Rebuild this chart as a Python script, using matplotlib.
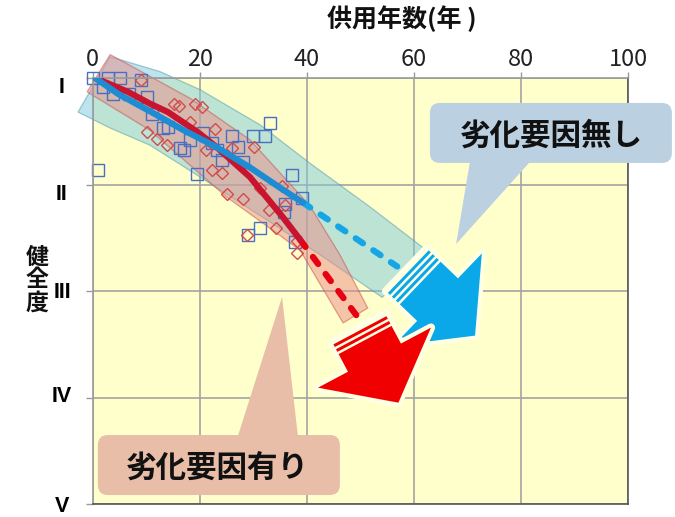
import matplotlib
matplotlib.use("Agg")
import matplotlib.pyplot as plt
import numpy as np
from matplotlib.patches import Polygon, FancyBboxPatch
from matplotlib.transforms import Affine2D, IdentityTransform, ScaledTranslation

plt.rcParams['font.family'] = ['Noto Sans CJK JP', 'DejaVu Sans']

# ---- data ----------------------------------------------------------------
x_ticks = [0, 20, 40, 60, 80, 100]
grade_ticks = [1, 2, 3, 4, 5]
grade_labels = ['I', 'II', 'III', 'IV', 'V']

# inspection results, no deterioration factor (blue squares)
sq_years = [0.1, 2.9, 5.1, 2.0, 3.8, 6.8, 9.1, 10.2, 11.1, 13.2, 14.1, 16.3, 17.1,
            18.2, 1.0, 19.5, 20.6, 22.3, 23.2, 24.2, 26.0, 27.2, 28.1, 30.0, 32.2,
            33.1, 37.3, 39.1, 36.0, 35.8, 31.3, 29.0, 37.8]
sq_grades = [1.00, 1.00, 1.00, 1.08, 1.15, 1.15, 1.02, 1.18, 1.34, 1.47, 1.46, 1.66, 1.68,
             1.58, 1.86, 1.90, 1.52, 1.61, 1.68, 1.77, 1.54, 1.65, 1.79, 1.54, 1.54,
             1.42, 1.91, 2.13, 2.18, 2.26, 2.41, 2.47, 2.54]

# inspection results, with deterioration factor (red diamonds)
dm_years = [9.1, 15.2, 16.2, 19.1, 20.4, 18.2, 22.9, 10.2, 12.0, 13.9, 26.1, 30.2, 21.2,
            22.3, 24.2, 25.1, 28.1, 31.3, 35.4, 32.9, 35.9, 34.3, 38.2, 28.9, 38.2]
dm_grades = [1.02, 1.24, 1.26, 1.24, 1.27, 1.41, 1.48, 1.51, 1.57, 1.63, 1.66, 1.65, 1.68,
             1.86, 1.89, 2.09, 2.14, 2.03, 2.01, 2.24, 2.19, 2.41, 2.53, 2.47, 2.64]

# trend curves
blue_years = [0.5, 4.8, 11.0, 17.0, 23.2, 29.4, 35.6, 39.3]
blue_grades = [1.0, 1.15, 1.32, 1.49, 1.65, 1.84, 2.05, 2.17]
blue_pred_years = [39.3, 48.1, 56.9]
blue_pred_grades = [2.17, 2.47, 2.77]

red_years = [0.5, 6.6, 10.7, 14.1, 19.7, 23.2, 29.4, 35.6, 38.8]
red_grades = [1.0, 1.13, 1.24, 1.32, 1.51, 1.65, 1.93, 2.31, 2.52]
red_pred_years = [38.8, 44.7, 50.2]
red_pred_grades = [2.52, 2.92, 3.29]

# scatter bands (upper edge left->right, lower edge right->left)
blue_band_years = [3.3, 12.6, 20.1, 31.3, 40.6, 51.8, 62.7,
                   54.1, 42.5, 33.1, 20.1, 10.7, 3.3, -2.7]
blue_band_grades = [0.80, 0.94, 1.11, 1.44, 1.80, 2.21, 2.63,
                    3.06, 2.66, 2.35, 1.93, 1.63, 1.47, 1.32]
red_band_years = [3.3, 18.2, 29.4, 40.6, 46.2, 51.4,
                  46.8, 38.8, 34.5, 25.1, 10.7, -1.0]
red_band_grades = [0.78, 1.19, 1.58, 2.20, 2.66, 3.16,
                   3.30, 2.62, 2.46, 2.12, 1.49, 1.13]

# ---- figure ---------------------------------------------------------------
W, H = 675, 517
fig = plt.figure(figsize=(W / 100, H / 100), dpi=100)
ax = fig.add_axes([92.5 / W, 1 - 504 / H, 535.5 / W, 426 / H])
ax.set_xlim(0, 100)
ax.set_ylim(5, 1)
ax.set_facecolor('#FFFFCC')
ax.set_axisbelow(True)
ax.grid(color='#a3a3a3', lw=1.2)

ax.xaxis.tick_top()
ax.set_xticks(x_ticks)
ax.set_xticklabels([str(v) for v in x_ticks], fontsize=17, color='#222222')
ax.tick_params(axis='x', length=4, width=1, color='#999999', pad=1)
ax.set_yticks(grade_ticks)
ax.set_yticklabels(grade_labels, fontsize=15.5, fontweight='bold',
                   family=['Liberation Sans', 'DejaVu Sans'])
ax.tick_params(axis='y', length=5, width=1, color='#999999', pad=17)
label_nudge = [-7, -8, 1.5, 3.5, 0.5]  # px, roman numerals are not centred on ticks
for lbl, dy in zip(ax.get_yticklabels(), label_nudge):
    lbl.set_horizontalalignment('center')
    lbl.set_transform(lbl.get_transform() + ScaledTranslation(0, dy / 100, fig.dpi_scale_trans))
for side in ['left', 'top']:
    ax.spines[side].set_color('#9a9a9a')
for side in ['right', 'bottom']:
    ax.spines[side].set_color('#555555')
for sp in ax.spines.values():
    sp.set_linewidth(1.2)

# bands
ax.add_patch(Polygon(np.column_stack([blue_band_years, blue_band_grades]), closed=True,
                     fc='#7DC9DC', ec='#4F97AA', lw=0.9, alpha=0.5, clip_on=False, zorder=1))
ax.add_patch(Polygon(np.column_stack([red_band_years, red_band_grades]), closed=True,
                     fc='#EB8D88', ec='#C84848', lw=0.9, alpha=0.5, clip_on=False, zorder=1.1))

# markers
ax.plot(sq_years, sq_grades, ls='none', marker='s', ms=8.6, mfc='none', mec='#4A6FC2',
        mew=1.0, clip_on=False, zorder=2)
ax.plot(dm_years, dm_grades, ls='none', marker='D', ms=6.4, mfc='none', mec='#D24B4B',
        mew=1.0, clip_on=False, zorder=2.1)

# trend lines
ax.plot(red_pred_years, red_pred_grades, color='#E60012', lw=4.5, ls=(0, (1.4, 2.0)),
        dash_capstyle='round', zorder=3)
ax.plot(red_years, red_grades, color='#C8142E', lw=4.5, solid_capstyle='round', zorder=3.1)
ax.plot(blue_pred_years, blue_pred_grades, color='#14A6E6', lw=4.5, ls=(0, (1.4, 2.0)),
        dash_capstyle='round', zorder=3.2)
ax.plot(blue_years, blue_grades, color='#1E8CD2', lw=4.5, solid_capstyle='round', zorder=3.3)


def fat_arrow(anchor, angle, color, hw, shaft, head_w, head_len, n_stripes, z):
    x0, y0 = ax.transData.transform(anchor)
    tr = Affine2D().rotate_deg(angle).translate(x0, y0)
    back = -2.5 - 5.5 * n_stripes
    outline = [(back, -hw), (shaft, -hw), (shaft, -head_w), (shaft + head_len, 0),
               (shaft, head_w), (shaft, hw), (back, hw)]
    halo = Polygon(outline, closed=True, fc='#FFFFE4', ec='#FFFFE4', lw=6,
                   joinstyle='round', transform=tr, clip_on=False, zorder=z)
    ax.add_patch(halo)
    body = [(0, -hw), (shaft, -hw), (shaft, -head_w), (shaft + head_len, 0),
            (shaft, head_w), (shaft, hw), (0, hw)]
    ax.add_patch(Polygon(body, closed=True, fc=color, ec='none', transform=tr,
                         clip_on=False, zorder=z + 0.1))
    for k in range(n_stripes):
        u1 = -2.5 - 5.5 * k
        ax.add_patch(Polygon([(u1 - 3, -hw), (u1, -hw), (u1, hw), (u1 - 3, hw)], closed=True,
                             fc=color, ec='none', transform=tr, clip_on=False, zorder=z + 0.1))


fat_arrow((61.2, 2.925), -43.8, '#0AA8E8', 29.5, 24, 64, 52, 3, 4)
fat_arrow((50.9, 3.46), -62.0, '#F00000', 30, 20, 64, 51, 2, 4.5)


def callout(text, center, tip, base, color, text_off):
    cx, cy = ax.transData.transform(center)
    ax.add_patch(FancyBboxPatch((cx - 121, cy - 30), 242, 60,
                                boxstyle='round,pad=0,rounding_size=10', fc=color, ec='none',
                                transform=IdentityTransform(), clip_on=False, zorder=6))
    tx, ty = ax.transData.transform(tip)
    by = cy + base[2]
    ax.add_patch(Polygon([(cx + base[0], by), (cx + base[1], by), (tx, ty)], closed=True,
                         fc=color, ec='none', transform=IdentityTransform(),
                         clip_on=False, zorder=6))
    ax.text(cx + text_off[0], cy + text_off[1], text, transform=IdentityTransform(),
            ha='center', va='center', fontsize=22, fontweight='bold', color='#111111',
            zorder=7)


callout('劣化要因無し', (85.6, 1.516), (67.9, 2.559), (-81, -21, -29), '#BBD0E0', (0, -3))
callout('劣化要因有り', (23.6, 4.634), (35.4, 3.056), (19, 79, 29), '#E8BEA8', (-2, -4))

fig.text(402 / W, 1 - 19 / H, '供用年数(年 )', ha='center', va='center',
         fontsize=18, fontweight='bold', color='#111111')
for i, ch in enumerate('健全度'):
    fig.text(37 / W, 1 - (257 + 23 * i) / H, ch, ha='center', va='center',
             fontsize=16.5, fontweight='bold', color='#111111')

fig.savefig('out.png', dpi=100)
